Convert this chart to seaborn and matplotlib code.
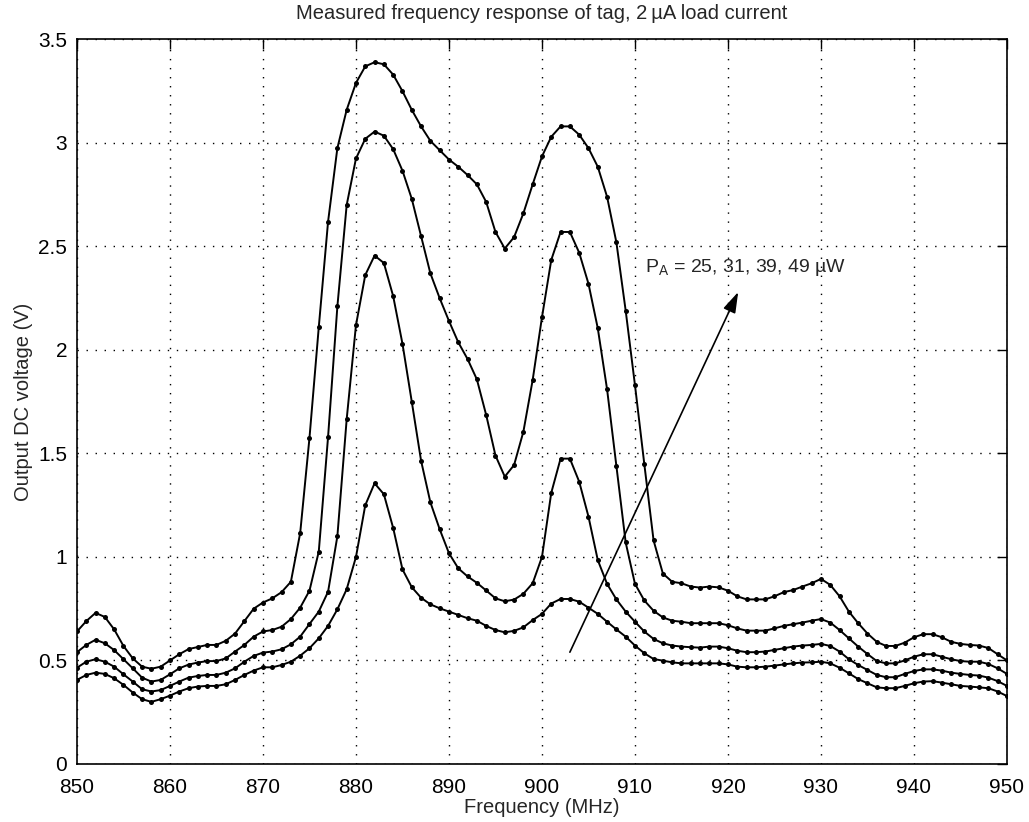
import numpy as np
import pandas as pd
import seaborn as sns
import matplotlib
matplotlib.use("Agg")
import matplotlib.pyplot as plt

# Frequency sweep, one point per MHz
freq = list(range(850, 951))

# Output DC voltage (V) for each available power level
v_25uW = [0.406, 0.43, 0.441, 0.435, 0.414, 0.382, 0.345, 0.313, 0.30, 0.313,
          0.33, 0.35, 0.366, 0.374, 0.377, 0.377, 0.385, 0.406, 0.43, 0.451,
          0.467, 0.467, 0.478, 0.494, 0.523, 0.559, 0.607, 0.667, 0.747, 0.844,
          1.00, 1.25, 1.356, 1.303, 1.14, 0.94, 0.854, 0.803, 0.771, 0.752,
          0.736, 0.72, 0.704, 0.692, 0.667, 0.647, 0.636, 0.643, 0.66, 0.695,
          0.725, 0.775, 0.797, 0.797, 0.784, 0.755, 0.725, 0.687, 0.65, 0.615,
          0.572, 0.535, 0.507, 0.499, 0.491, 0.486, 0.486, 0.486, 0.486, 0.486,
          0.481, 0.47, 0.467, 0.467, 0.47, 0.475, 0.481, 0.486, 0.49, 0.491,
          0.494, 0.486, 0.465, 0.438, 0.41, 0.39, 0.37, 0.366, 0.366, 0.377,
          0.39, 0.398, 0.40, 0.393, 0.385, 0.377, 0.374, 0.37, 0.366, 0.35,
          0.328]
v_31uW = [0.465, 0.494, 0.506, 0.494, 0.47, 0.433, 0.398, 0.361, 0.35, 0.357,
          0.377, 0.398, 0.417, 0.425, 0.43, 0.43, 0.441, 0.462, 0.494, 0.522,
          0.538, 0.543, 0.554, 0.578, 0.615, 0.676, 0.736, 0.832, 1.10, 1.665,
          2.12, 2.362, 2.456, 2.42, 2.26, 2.03, 1.75, 1.465, 1.264, 1.134,
          1.018, 0.945, 0.906, 0.875, 0.838, 0.80, 0.786, 0.794, 0.822, 0.873,
          1.0, 1.31, 1.475, 1.475, 1.364, 1.195, 0.985, 0.87, 0.795, 0.736,
          0.687, 0.64, 0.604, 0.583, 0.572, 0.567, 0.564, 0.562, 0.567, 0.567,
          0.559, 0.547, 0.54, 0.54, 0.543, 0.551, 0.559, 0.567, 0.572, 0.575,
          0.58, 0.57, 0.543, 0.506, 0.478, 0.454, 0.43, 0.419, 0.419, 0.435,
          0.449, 0.457, 0.457, 0.451, 0.441, 0.435, 0.43, 0.427, 0.417, 0.40,
          0.377]
v_39uW = [0.54, 0.575, 0.60, 0.583, 0.55, 0.506, 0.462, 0.417, 0.398, 0.406,
          0.433, 0.462, 0.48, 0.49, 0.497, 0.497, 0.51, 0.543, 0.575, 0.615,
          0.64, 0.647, 0.663, 0.70, 0.755, 0.837, 1.026, 1.58, 2.21, 2.70,
          2.925, 3.02, 3.055, 3.035, 2.97, 2.866, 2.73, 2.55, 2.37, 2.25,
          2.14, 2.037, 1.956, 1.858, 1.686, 1.49, 1.388, 1.444, 1.605, 1.855,
          2.158, 2.435, 2.57, 2.57, 2.47, 2.32, 2.105, 1.81, 1.44, 1.07,
          0.87, 0.79, 0.74, 0.708, 0.692, 0.687, 0.68, 0.68, 0.68, 0.68,
          0.67, 0.655, 0.644, 0.644, 0.644, 0.655, 0.667, 0.675, 0.683, 0.692,
          0.70, 0.683, 0.647, 0.607, 0.567, 0.531, 0.497, 0.486, 0.486, 0.50,
          0.518, 0.53, 0.53, 0.518, 0.506, 0.497, 0.494, 0.494, 0.483, 0.462,
          0.435]
v_49uW = [0.64, 0.69, 0.73, 0.71, 0.65, 0.57, 0.51, 0.47, 0.46, 0.47,
          0.50, 0.53, 0.555, 0.565, 0.575, 0.575, 0.595, 0.63, 0.69, 0.75,
          0.78, 0.80, 0.83, 0.88, 1.115, 1.575, 2.11, 2.62, 2.975, 3.16,
          3.29, 3.37, 3.39, 3.38, 3.33, 3.25, 3.16, 3.08, 3.01, 2.965,
          2.92, 2.885, 2.845, 2.80, 2.715, 2.57, 2.49, 2.545, 2.66, 2.80,
          2.935, 3.03, 3.08, 3.08, 3.04, 2.975, 2.885, 2.74, 2.52, 2.19,
          1.83, 1.45, 1.08, 0.92, 0.88, 0.873, 0.857, 0.852, 0.857, 0.853,
          0.837, 0.81, 0.795, 0.795, 0.795, 0.81, 0.83, 0.84, 0.857, 0.873,
          0.894, 0.865, 0.81, 0.736, 0.68, 0.63, 0.59, 0.57, 0.57, 0.586,
          0.612, 0.627, 0.627, 0.612, 0.59, 0.58, 0.575, 0.572, 0.56, 0.53,
          0.50]

power_levels = ["25", "31", "39", "49"]

sns.set_style("white")
plt.rcParams['font.family'] = ['Liberation Sans', 'DejaVu Sans']
plt.rcParams['mathtext.fontset'] = 'custom'
plt.rcParams['mathtext.rm'] = 'Liberation Sans'
plt.rcParams['mathtext.it'] = 'Liberation Sans'

df = pd.DataFrame({
    'Frequency': freq * 4,
    'Voltage': v_25uW + v_31uW + v_39uW + v_49uW,
    'Power': sum([[p] * len(freq) for p in power_levels], []),
})

fig = plt.figure(figsize=(10.29, 8.22), dpi=100)
ax = fig.add_axes([0.0748, 0.0706, 0.9038, 0.8814])

sns.lineplot(data=df, x='Frequency', y='Voltage', hue='Power',
             palette=['black'] * 4, marker='o', markersize=3.6,
             markeredgewidth=0, linewidth=1.4, estimator=None,
             legend=False, ax=ax)

ax.set_xlim(850, 950)
ax.set_ylim(0, 3.5)
ax.set_xticks(np.arange(850, 951, 10))
ax.set_yticks([0, 0.5, 1, 1.5, 2, 2.5, 3, 3.5])
ax.set_yticklabels(['0', '0.5', '1', '1.5', '2', '2.5', '3', '3.5'])
ax.tick_params(direction='in', top=True, right=True, length=7, width=1,
               labelsize=15, colors='black')
ax.tick_params(axis='y', pad=7)
ax.tick_params(axis='x', pad=10)
ax.grid(True, color='black', linestyle=(0, (1, 5.5)), linewidth=1)
for s in ax.spines.values():
    s.set_color('black')
    s.set_linewidth(1.2)

ax.set_xlabel('Frequency (MHz)', fontsize=14.5, labelpad=1)
ax.set_ylabel('Output DC voltage (V)', fontsize=14.5, labelpad=4)
ax.set_title('Measured frequency response of tag, 2\u2009\u00b5A load current',
             fontsize=14.5, pad=15)

# Arrow indicating increasing available power
ax.annotate('', xy=(921.1, 2.28), xytext=(903.0, 0.54),
            arrowprops=dict(arrowstyle='-|>,head_length=0.7,head_width=0.22',
                            color='black', lw=1.2, mutation_scale=18,
                            shrinkA=0, shrinkB=0))
ax.text(911.1, 2.40, 'P$_\\mathregular{A}$ = 25, 31, 39, 49 \u00b5W',
        fontsize=14, va='center', ha='left')

fig.savefig('out.png', dpi=100)
